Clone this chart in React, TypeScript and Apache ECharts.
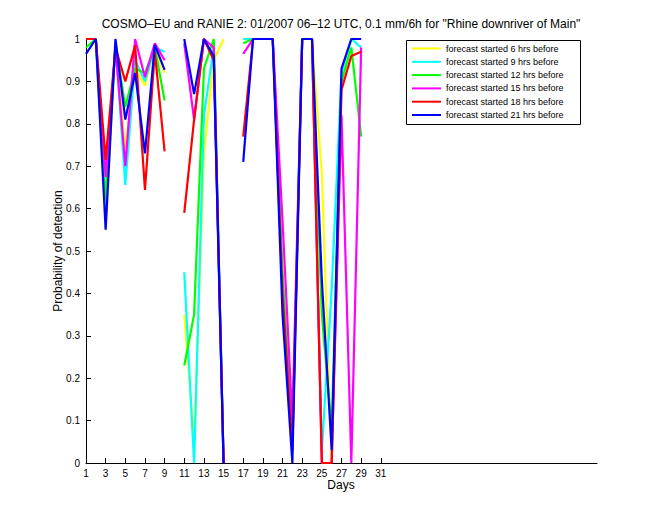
import React, { useEffect, useRef } from "react";
import * as echarts from "echarts";

const days = [1,2,3,4,5,6,7,8,9,10,11,12,13,14,15,16,17,18,19,20,21,22,23,24,25,26,27,28,29,30,31];

const seriesNames = [
  "forecast started 6 hrs before",
  "forecast started 9 hrs before",
  "forecast started 12 hrs before",
  "forecast started 15 hrs before",
  "forecast started 18 hrs before",
  "forecast started 21 hrs before",
];
const seriesColors = ["#ffff00", "#00ffff", "#00ff00", "#ff00ff", "#ff0000", "#0000ff"];

const pod6h = [1.0, 1.0, 0.55, 0.99, 0.74, 0.93, 0.89, 0.98, 0.92, null, 0.35, 0.05, 0.73, 0.95, 1.0, null, 1.0, 1.0, 1.0, 1.0, 0.42, 0.05, 1.0, 1.0, 0.68, 0.0, 0.9, 1.0, 1.0, null, null];
const pod9h = [1.0, 1.0, 0.6, 0.99, 0.656, 0.95, 0.9, 0.98, 0.97, null, 0.45, 0.0, 0.82, 0.98, 0.0, null, 1.0, 1.0, 1.0, 1.0, 0.42, 0.04, 1.0, 1.0, 0.03, 0.41, 0.92, 1.0, 0.98, null, null];
const pod12h = [0.98, 1.0, 0.62, 0.99, 0.84, 0.93, 0.92, 0.98, 0.855, null, 0.23, 0.35, 0.93, 1.0, 0.0, null, 0.99, 1.0, 1.0, 1.0, 0.45, 0.05, 1.0, 1.0, 0.35, 0.08, 0.9, 0.98, 0.77, null, null];
const pod15h = [1.0, 1.0, 0.675, 0.98, 0.7, 1.0, 0.91, 0.99, 0.95, null, 0.99, 0.81, 1.0, 0.98, 0.0, null, 0.965, 1.0, 1.0, 1.0, 0.57, 0.1, 1.0, 1.0, 0.0, 0.0, 0.82, 0.0, 0.98, null, null];
const pod18h = [1.0, 1.0, 0.715, 0.98, 0.9, 0.985, 0.644, 0.97, 0.735, null, 0.59, 0.81, 1.0, 0.95, 0.0, null, 0.77, 1.0, 1.0, 1.0, 0.4, 0.03, 1.0, 1.0, 0.0, 0.0, 0.88, 0.96, 0.97, null, null];
const pod21h = [0.965, 1.0, 0.55, 1.0, 0.81, 0.92, 0.73, 0.986, 0.927, null, 1.0, 0.87, 1.0, 0.96, 0.0, null, 0.71, 1.0, 1.0, 1.0, 0.35, 0.0, 1.0, 1.0, 0.43, 0.03, 0.93, 1.0, 1.0, null, null];

const allSeries = [pod6h, pod9h, pod12h, pod15h, pod18h, pod21h];
const xTickLabels = [1,3,5,7,9,11,13,15,17,19,21,23,25,27,29,31];

const titleText = "COSMO\u2013EU and RANIE 2: 01/2007 06\u201312 UTC, 0.1 mm/6h for \"Rhine downriver of Main\"";
const xName = "Days";
const yName = "Probability of detection";

export default function App() {
  const ref = useRef<HTMLDivElement>(null);
  useEffect(() => {
    if (!ref.current) return;
    const chart = echarts.init(ref.current, null, { renderer: "svg" });
    const font = "'Liberation Sans', Arial, Helvetica, sans-serif";
    chart.setOption({
      animation: false,
      backgroundColor: "#ffffff",
      grid: { left: 86, top: 39, right: 63, bottom: 57, containLabel: false },
      xAxis: {
        type: "value",
        min: 1,
        max: 53,
        axisLine: { show: true, lineStyle: { color: "#000", width: 1 } },
        axisTick: { show: true, inside: true, length: 5, lineStyle: { color: "#000" }, customValues: xTickLabels },
        axisLabel: { color: "#000", fontSize: 10, fontFamily: font, margin: 5, customValues: xTickLabels },
        splitLine: { show: false },
      },
      yAxis: {
        type: "value",
        min: 0,
        max: 1,
        interval: 0.1,
        axisLine: { show: true, lineStyle: { color: "#000", width: 1 } },
        axisTick: { show: true, inside: true, length: 5, lineStyle: { color: "#000" } },
        axisLabel: {
          color: "#000", fontSize: 10, fontFamily: font, margin: 6,
          formatter: (v: number) => String(Math.round(v * 10) / 10),
        },
        splitLine: { show: false },
      },
      legend: {
        orient: "vertical",
        left: 412,
        top: 43,
        padding: 0,
        itemGap: 2.3,
        itemWidth: 29,
        itemHeight: 2,
        icon: "rect",
        textStyle: { color: "#000", fontSize: 9, fontFamily: font, lineHeight: 11 },
        data: seriesNames,
      },
      graphic: [
        { type: "rect", shape: { x: 406.5, y: 40.5, width: 174, height: 84 }, style: { fill: "none", stroke: "#000", lineWidth: 1 }, z: 100 },
        { type: "text", x: 341, y: 24, style: { text: titleText, font: `12px ${font}`, fill: "#000", textAlign: "center", textVerticalAlign: "middle" } },
        { type: "text", x: 341, y: 485, style: { text: xName, font: `12px ${font}`, fill: "#000", textAlign: "center", textVerticalAlign: "middle" } },
        { type: "text", x: 58, y: 251, rotation: Math.PI / 2, style: { text: yName, font: `12px ${font}`, fill: "#000", textAlign: "center", textVerticalAlign: "middle" } },
      ],
      series: allSeries.map((vals, i) => ({
        name: seriesNames[i],
        type: "line",
        data: days.map((d, j) => [d, vals[j]]),
        connectNulls: false,
        showSymbol: false,
        symbol: "none",
        clip: false,
        lineStyle: { color: seriesColors[i], width: 2.2 },
        itemStyle: { color: seriesColors[i] },
      })),
    });
    return () => chart.dispose();
  }, []);
  return <div ref={ref} style={{ position: "absolute", left: 0, top: 0, width: 660, height: 520 }} />;
}
